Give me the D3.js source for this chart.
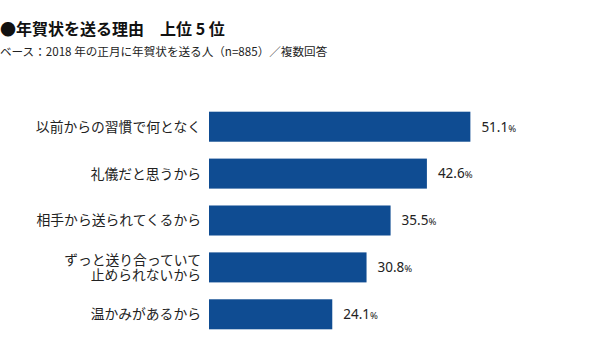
<!DOCTYPE html>
<html lang="ja">
    <head>
        <meta charset="utf-8">
        <title>年賀状を送る理由</title>
        <script src="https://d3js.org/d3.v7.min.js"></script>
        <style type="text/css">
            body { margin: 0; background: #fff; }
            text { font-family: "Noto Sans CJK JP", "Noto Sans", sans-serif; }
        </style>
    </head>
    <body>
        <script>
            // data
            var categories = [
                ["以前からの習慣で何となく"],
                ["礼儀だと思うから"],
                ["相手から送られてくるから"],
                ["ずっと送り合っていて", "止められないから"],
                ["温かみがあるから"]
            ];
            var values = [51.1, 42.6, 35.5, 30.8, 24.1];
            var titleText = "●年賀状を送る理由　上位 5 位";
            var subtitleText = "ベース：2018 年の正月に年賀状を送る人（n=885）／複数回答";

            // configuration
            var outerWidth = 600;
            var outerHeight = 358;
            var barColor = "#0f4c92";

            var svg = d3.select("body")
                .append("svg")
                .attr("width", outerWidth)
                .attr("height", outerHeight);

            svg.append("text")
                .attr("x", 0)
                .attr("y", 35)
                .style("font-size", "16px")
                .style("font-weight", "bold")
                .attr("fill", "#111")
                .text(titleText);

            svg.append("text")
                .attr("x", 0)
                .attr("y", 56)
                .style("font-size", "11.6px")
                .attr("fill", "#222")
                .text(subtitleText);

            var idx = d3.range(values.length);

            var xScale = d3.scaleLinear().domain([0, 100]).range([209, 720.5]);
            var yScale = d3.scaleBand()
                .domain(idx)
                .range([111.7, 329.3])
                .paddingInner(0.36)
                .paddingOuter(0);

            var g = svg.append("g");

            g.selectAll("rect.bar").data(idx).enter().append("rect")
                .attr("class", "bar")
                .attr("x", xScale(0))
                .attr("y", function (i) { return yScale(i); })
                .attr("width", function (i) { return xScale(values[i]) - xScale(0); })
                .attr("height", yScale.bandwidth())
                .attr("fill", barColor);

            // category labels
            var lineGap = 15;
            var labels = g.selectAll("text.cat").data(idx).enter().append("text")
                .attr("class", "cat")
                .attr("text-anchor", "end")
                .attr("fill", "#222")
                .style("font-size", "13.8px")
                .attr("transform", function (i) {
                    var n = categories[i].length;
                    var cy = yScale(i) + yScale.bandwidth() / 2 - (n - 1) * lineGap / 2;
                    return "translate(201," + cy + ")";
                });

            labels.selectAll("tspan").data(function (i) { return categories[i]; }).enter().append("tspan")
                .attr("x", 0)
                .attr("y", function (d, j) { return j * lineGap; })
                .attr("dy", "0.36em")
                .text(function (d) { return d; });

            // value labels
            var vals = g.selectAll("text.val").data(idx).enter().append("text")
                .attr("class", "val")
                .attr("x", function (i) { return xScale(values[i]) + 11; })
                .attr("y", function (i) { return yScale(i) + yScale.bandwidth() / 2; })
                .attr("dy", "0.36em")
                .attr("fill", "#222")
                .style("font-family", "'Noto Sans', sans-serif")
                .style("font-size", "13.5px");

            vals.append("tspan").text(function (i) { return d3.format(".1f")(values[i]); });
            vals.append("tspan").style("font-size", "9.5px").text("%");
        </script>
    </body>
</html>
